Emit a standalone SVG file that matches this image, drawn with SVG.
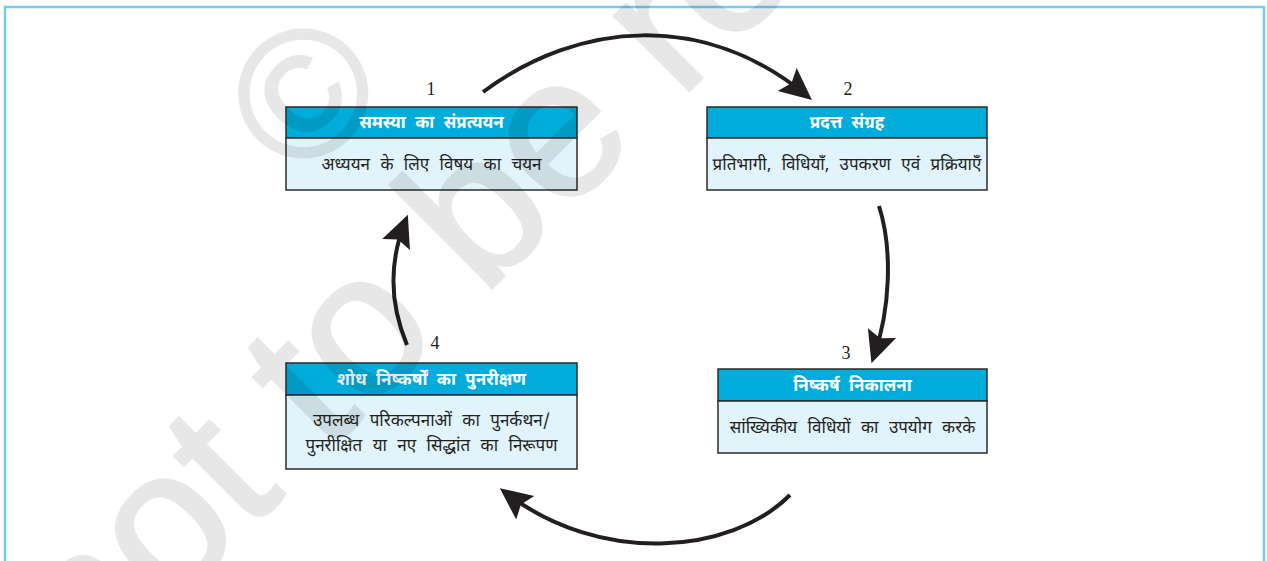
<svg xmlns="http://www.w3.org/2000/svg" width="1267" height="561" viewBox="0 0 1267 561">
<style>
.frame{fill:none;stroke:#6dcff6;stroke-width:2.5}
.hd{fill:#00acd9;stroke:#2b2b2b;stroke-width:1.5}
.bd{fill:#e1f3fb;stroke:#2b2b2b;stroke-width:1.5}
.ht{font-family:"Noto Sans Devanagari","Lohit Devanagari","Noto Serif Devanagari","Noto Sans",sans-serif;font-size:17px;font-weight:bold;fill:#ffffff;text-anchor:middle;word-spacing:5px}
.bt{font-family:"Noto Sans Devanagari","Lohit Devanagari","Noto Serif Devanagari","Noto Sans",sans-serif;font-size:17px;fill:#231f20;text-anchor:middle;word-spacing:6px}
.num{font-family:"Liberation Serif",serif;font-size:18px;fill:#231f20;text-anchor:middle}
.arr{fill:none;stroke:#231f20;stroke-width:4}
.wm{font-family:"Liberation Sans",sans-serif;fill:#000;stroke:#000;stroke-width:3}
</style>
<defs>
<marker id="ah" markerUnits="userSpaceOnUse" markerWidth="32" markerHeight="32" viewBox="0 0 29 27" refX="22" refY="13.5" orient="auto">
<path d="M0,0 L29,13.5 L0,27 L5,13.5 Z" fill="#231f20"/>
</marker>
</defs>
<rect class="frame" x="5" y="7" width="1259" height="600"/>
<g id="node1">
<rect class="hd" x="286" y="107" width="291" height="31"/>
<rect class="bd" x="286" y="138" width="291" height="52"/>
<text class="ht" x="431.5" y="128">समस्या का संप्रत्ययन</text>
<text class="bt" x="431.5" y="170">अध्ययन के लिए विषय का चयन</text>
<text class="num" x="431" y="95">1</text>
</g>
<g id="node2">
<rect class="hd" x="707" y="107" width="280" height="31"/>
<rect class="bd" x="707" y="138" width="280" height="52"/>
<text class="ht" x="847" y="128">प्रदत्त संग्रह</text>
<text class="bt" x="847" y="170">प्रतिभागी, विधियाँ, उपकरण एवं प्रक्रियाएँ</text>
<text class="num" x="848" y="95">2</text>
</g>
<g id="node3">
<rect class="hd" x="718" y="369" width="269" height="32"/>
<rect class="bd" x="718" y="401" width="269" height="52"/>
<text class="ht" x="852.5" y="391">निष्कर्ष निकालना</text>
<text class="bt" x="852.5" y="433">सांख्यिकीय विधियों का उपयोग करके</text>
<text class="num" x="846" y="359">3</text>
</g>
<g id="node4">
<rect class="hd" x="286" y="363" width="291" height="32"/>
<rect class="bd" x="286" y="395" width="291" height="74"/>
<text class="ht" x="431.5" y="385">शोध निष्कर्षों का पुनरीक्षण</text>
<text class="bt" x="431.5" y="426">उपलब्ध परिकल्पनाओं का पुनर्कथन/</text>
<text class="bt" x="431.5" y="451">पुनरीक्षित या नए सिद्धांत का निरूपण</text>
<text class="num" x="435" y="349">4</text>
</g>
<g id="connectors">
<path class="arr" marker-end="url(#ah)" d="M483,92 C580,20 705,12 806,95"/>
<path class="arr" marker-end="url(#ah)" d="M879,206 C893,250 890,310 874,356"/>
<path class="arr" marker-end="url(#ah)" d="M790,495 C730,555 600,565 506,493"/>
<path class="arr" marker-end="url(#ah)" d="M407,345 C388,300 390,260 405,222"/>
</g>
<g id="watermark" opacity="0.09">
<text class="wm" font-size="200" transform="translate(90,690) rotate(-45)">not to be re</text>
<text class="wm" font-size="180" text-anchor="middle" transform="translate(302,92) rotate(-45)" y="64" stroke-width="2">©</text>
</g>
</svg>
